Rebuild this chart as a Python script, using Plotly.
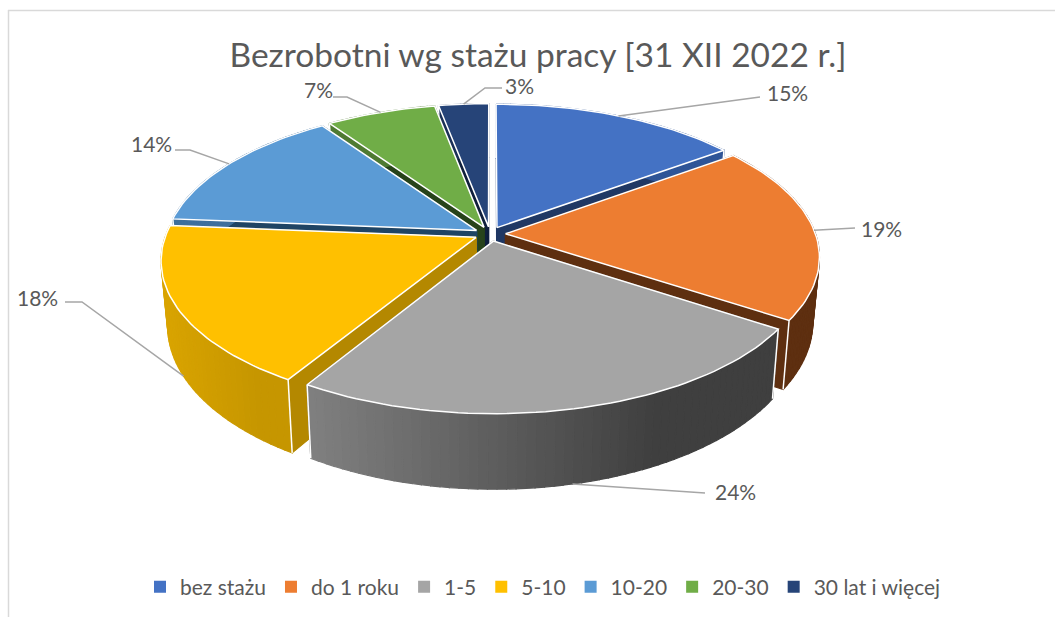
import math
import plotly.graph_objects as go

categories = ["bez stażu", "do 1 roku", "1-5", "5-10", "10-20", "20-30", "30 lat i więcej"]
values = [14.9, 19.4, 24.4, 17.6, 14.1, 6.6, 3.0]
top_colors = ["#4472c4", "#ed7d31", "#a5a5a5", "#ffc000", "#5b9bd5", "#70ad47", "#264478"]
radial_colors = ["#203864", "#5e2f10", "#6e6e6e", "#b48800", "#1f4464", "#27431a", "#0f1f3c"]
side_left = ["#2f5597", "#5e2f10", "#808080", "#d9a400", "#3f6f9c", "#4f7a32", "#1a3058"]
side_right = ["#2f5597", "#5e2f10", "#3f3f3f", "#c69600", "#3f6f9c", "#4f7a32", "#1a3058"]
draw_order = [6, 5, 4, 0, 3, 1, 2]

TITLE = "Bezrobotni wg stażu pracy [31 XII 2022 r.]"
TEXT = "#595959"
FONT = "Lato"

# projection of the pie (pixel space of the axes)
CX, CY, R, A, P = 490, 234, 310, 144, 0.152
EXPLODE, DEPTH, SHRINK = 0.05, 63, 0.98


def top_pt(theta, mid):
    u = math.sin(theta) + EXPLODE * math.sin(mid)
    v = -math.cos(theta) - EXPLODE * math.cos(mid)
    s = 1 / (1 - P * v)
    return CX + R * u * s, CY + A * v * s


def apex(mid):
    u, v = EXPLODE * math.sin(mid), -EXPLODE * math.cos(mid)
    s = 1 / (1 - P * v)
    return CX + R * u * s, CY + A * v * s


def down(pt):
    s = 1 + (pt[1] - CY) / 900
    return CX + (pt[0] - CX) * SHRINK, pt[1] + DEPTH * s


def mix(c1, c2, t):
    a = [int(c1[i:i + 2], 16) for i in (1, 3, 5)]
    b = [int(c2[i:i + 2], 16) for i in (1, 3, 5)]
    return "#%02x%02x%02x" % tuple(round(x + (y - x) * t) for x, y in zip(a, b))


def poly(pts, color, line=None, width=1.2):
    return go.Scatter(
        x=[p[0] for p in pts] + [pts[0][0]],
        y=[p[1] for p in pts] + [pts[0][1]],
        mode="lines", fill="toself", fillcolor=color,
        line=dict(color=line or color, width=width),
        showlegend=False, hoverinfo="skip",
    )


fig = go.Figure()
total = sum(values)
spans = []
acc = 0
for v in values:
    spans.append((acc / total * 2 * math.pi, (acc + v) / total * 2 * math.pi))
    acc += v

for i in draw_order:
    t0, t1 = spans[i]
    mid = (t0 + t1) / 2
    ap = apex(mid)
    n = max(4, int(math.degrees(t1 - t0) / 1.5))
    rim = [top_pt(t0 + (t1 - t0) * k / n, mid) for k in range(n + 1)]
    # radial inner faces
    for edge in (rim[0], rim[-1]):
        fig.add_trace(poly([ap, edge, down(edge), down(ap)], radial_colors[i]))
    # outer wall, shaded across its width
    xs = [p[0] for p in rim]
    lo, hi = min(xs), max(xs)
    for k in range(n):
        a, b = rim[k], rim[k + 1]
        t = min(1, ((a[0] + b[0]) / 2 - lo) / (hi - lo) * 1.35)
        col = mix(side_left[i], side_right[i], t)
        fig.add_trace(poly([a, b, down(b), down(a)], col))
    # white seams of the wall
    for edge in (rim[0], rim[-1]):
        fig.add_trace(go.Scatter(x=[edge[0], down(edge)[0]], y=[edge[1], down(edge)[1]], mode="lines",
                                 line=dict(color="white", width=1.5), showlegend=False, hoverinfo="skip"))
    # top face
    fig.add_trace(poly([ap] + rim, top_colors[i], line="white", width=1.5))

# leader lines: (label centre, elbow or None, label-side end, lands on the lower rim)
leaders = [
    ((787, 92), None, (760, 97), False),
    ((881, 228), None, (855, 228), False),
    ((735, 491), None, (705, 493), True),
    ((37, 297), (82, 302), (65, 302), True),
    ((151, 143), (190, 150), (175, 150), False),
    ((318, 89), (347, 97), (333, 97), False),
    ((519, 85), (485, 88), (502, 88), False),
]
annotations = []
for i, (lab, elbow, end, low) in enumerate(leaders):
    t0, t1 = spans[i]
    mid = (t0 + t1) / 2
    p = top_pt(mid, mid)
    if low:
        p = down(p)
    pts = [end] + ([elbow] if elbow else []) + [p]
    fig.add_trace(go.Scatter(x=[q[0] for q in pts], y=[q[1] for q in pts], mode="lines",
                             line=dict(color="#a6a6a6", width=1.5), showlegend=False, hoverinfo="skip"))
    annotations.append(dict(x=lab[0], y=lab[1], xref="x", yref="y", text=f"{values[i]:.0f}%", showarrow=False,
                            font=dict(family=FONT, size=21, color=TEXT)))

for name, color in zip(categories, top_colors):
    fig.add_trace(go.Scatter(x=[None], y=[None], mode="markers", name=name,
                             marker=dict(symbol="square", size=7, color=color)))

fig.update_layout(
    width=1055, height=617,
    margin=dict(l=0, r=0, t=0, b=0),
    paper_bgcolor="white", plot_bgcolor="white",
    xaxis=dict(range=[0, 1055], visible=False, fixedrange=True),
    yaxis=dict(range=[617, 0], visible=False, fixedrange=True),
    title=dict(text=TITLE, x=538 / 1055, xanchor="center", y=1 - 55 / 617, yanchor="middle",
               font=dict(family=FONT, size=33.5, color=TEXT)),
    legend=dict(orientation="h", x=543 / 1055, xanchor="center", y=1 - 587 / 617, yanchor="middle",
                font=dict(family=FONT, size=21, color=TEXT), itemsizing="constant", bgcolor="rgba(0,0,0,0)"),
    annotations=annotations,
    shapes=[
        dict(type="line", xref="paper", yref="paper", x0=8 / 1055, x1=1, y0=1 - 10.5 / 617, y1=1 - 10.5 / 617,
             line=dict(color="#d9d9d9", width=1.5)),
        dict(type="line", xref="paper", yref="paper", x0=8.5 / 1055, x1=8.5 / 1055, y0=1 - 10 / 617, y1=0,
             line=dict(color="#d9d9d9", width=1.5)),
    ],
)
fig.write_html("out.html", config=dict(displayModeBar=False),
               post_script="document.body.style.margin='0';document.documentElement.style.overflow='hidden';")
